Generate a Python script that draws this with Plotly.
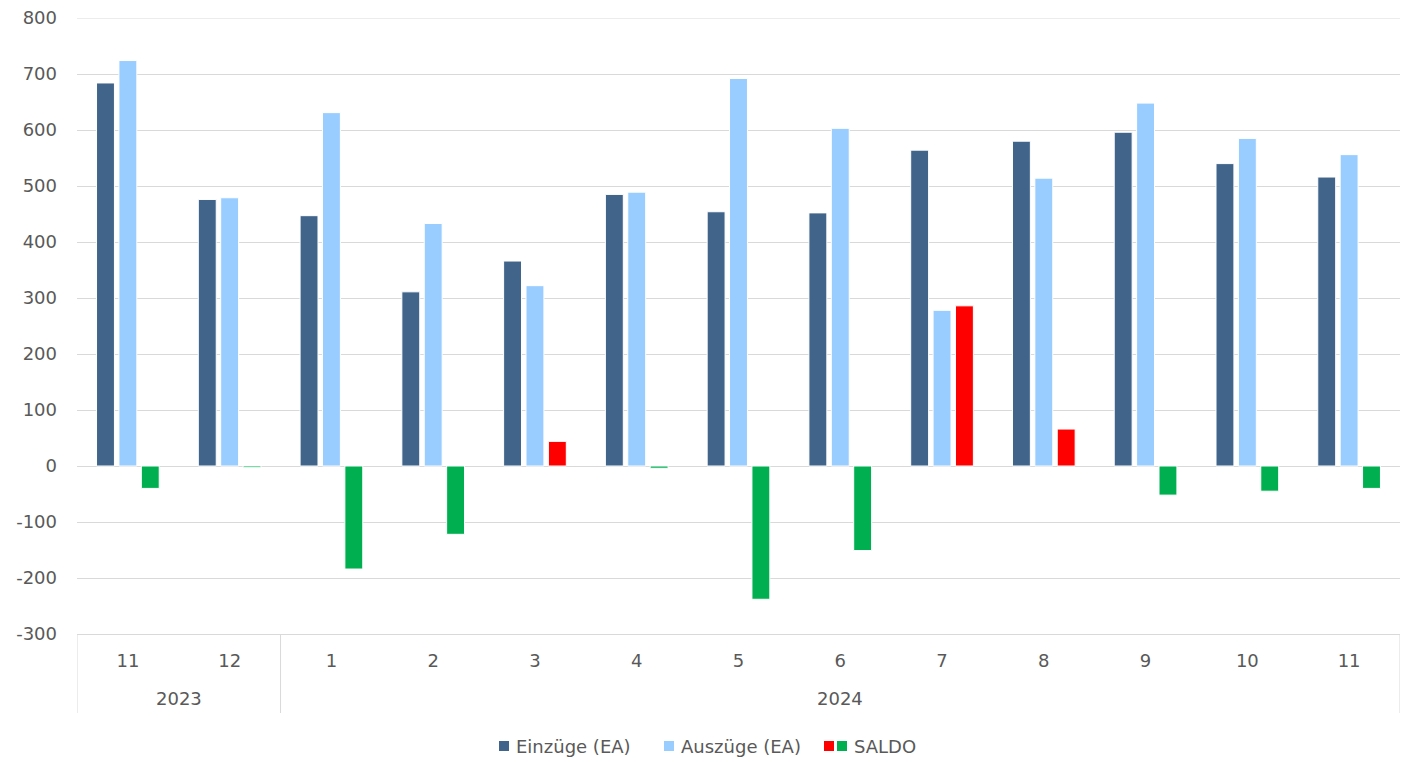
import plotly.graph_objects as go

# data
years = ["2023", "2023", "2024", "2024", "2024", "2024", "2024", "2024", "2024", "2024", "2024", "2024", "2024"]
months = ["11", "12", "1", "2", "3", "4", "5", "6", "7", "8", "9", "10", "11"]
einzuege = [684, 476, 447, 311, 366, 485, 454, 452, 564, 580, 596, 540, 516]
auszuege = [724, 479, 631, 433, 322, 489, 692, 603, 278, 514, 648, 585, 556]
saldo = [-40, -3, -184, -122, 44, -4, -238, -151, 286, 66, -52, -45, -40]
y_ticks = [-300, -200, -100, 0, 100, 200, 300, 400, 500, 600, 700, 800]

c_ein = "#41648A"
c_aus = "#99CCFF"
c_pos = "#FF0000"
c_neg = "#00B050"
grey = "#595959"
line_grey = "#D9D9D9"

keys = [y + "-" + m for y, m in zip(years, months)]

fig = go.Figure()
fig.add_trace(go.Bar(x=keys, y=einzuege, name="Einzüge (EA)", marker=dict(color=c_ein, line=dict(color="white", width=1)), showlegend=False))
fig.add_trace(go.Bar(x=keys, y=auszuege, name="Auszüge (EA)", marker=dict(color=c_aus, line=dict(color="white", width=1)), showlegend=False))
fig.add_trace(go.Bar(x=keys, y=saldo, name="SALDO",
                     marker=dict(color=[c_pos if v > 0 else c_neg for v in saldo], line=dict(color="white", width=1)),
                     showlegend=False))

W, H = 1323, 616
def px(v):
    return (v - 77) / W
def py(v):
    return (634 - v) / H

# top gridline (plotly drops the one on the plot edge)
fig.add_shape(type="line", xref="paper", yref="y", x0=0, x1=1, y0=max(y_ticks), y1=max(y_ticks),
              line=dict(color=line_grey, width=1), layer="below")

# year labels + dividers under the month labels
n = len(keys)
bounds = [0]
for i in range(1, n):
    if years[i] != years[i - 1]:
        bounds.append(i)
bounds.append(n)
for b in bounds:
    fig.add_shape(type="line", xref="x", yref="paper", x0=b - 0.5, x1=b - 0.5,
                  y0=0, y1=py(713), line=dict(color=line_grey, width=1))
for a, b in zip(bounds[:-1], bounds[1:]):
    fig.add_annotation(xref="x", yref="paper", x=(a + b - 1) / 2, y=py(698),
                       text=years[a], showarrow=False, yanchor="middle",
                       font=dict(size=18, color=grey))

# legend drawn by hand (SALDO has two colours)
legend_items = [
    ([c_ein], 499, "Einzüge (EA)"),
    ([c_aus], 664, "Auszüge (EA)"),
    ([c_pos, c_neg], 824, "SALDO"),
]
for cols, x0, label in legend_items:
    for i, c in enumerate(cols):
        fig.add_shape(type="rect", xref="paper", yref="paper",
                      x0=px(x0 + i * 13), x1=px(x0 + i * 13 + 10),
                      y0=py(751), y1=py(741), fillcolor=c, line_width=0)
    fig.add_annotation(xref="paper", yref="paper", x=px(x0 + len(cols) * 13 + 2), y=py(746),
                       text=label, showarrow=False, xanchor="left", yanchor="middle",
                       font=dict(size=18, color=grey))

fig.update_layout(
    width=1402, height=762,
    margin=dict(l=77, r=2, t=18, b=128),
    plot_bgcolor="white", paper_bgcolor="white",
    font=dict(family="DejaVu Sans", size=18, color=grey),
    barmode="group", bargap=0.34, bargroupgap=0.2,
)
fig.update_yaxes(range=[-300, 800], tickvals=y_ticks, ticktext=[str(v) for v in y_ticks],
                 gridcolor=line_grey, gridwidth=1,
                 zeroline=True, zerolinecolor=line_grey, zerolinewidth=1,
                 showline=False, ticks="", ticklabelstandoff=19, automargin=False,
                 ticklabeloverflow="allow", tickfont=dict(size=18, color=grey))
fig.update_xaxes(type="category", range=[-0.5, n - 0.5], tickvals=keys, ticktext=months,
                 showline=True, linecolor=line_grey, linewidth=1, showgrid=False,
                 ticks="", ticklabelstandoff=10, automargin=False,
                 tickfont=dict(size=18, color=grey))

# drop the default 8px body margin so the figure fills the window
fig.write_html("out.html", config={"displayModeBar": False},
               post_script="document.body.style.margin='0';document.body.style.overflow='hidden';")
